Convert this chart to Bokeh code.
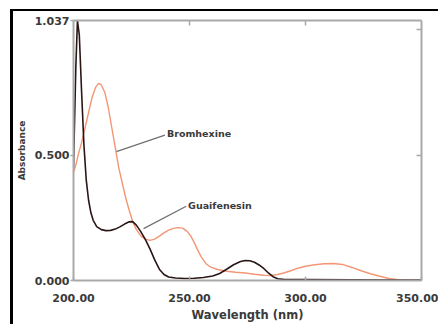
from bokeh.plotting import figure
from bokeh.models import (FixedTicker, NumeralTickFormatter, LinearAxis, Range1d,
                          Label, ColumnDataSource)
from bokeh.embed import file_html
from bokeh.resources import INLINE

# ---- data ----
guai_nm = [200, 201, 201.7, 202.5, 203.5, 204.5, 205.5, 206.5, 207.5, 208.5, 210, 212, 214, 216,
           218, 220, 222, 224, 225.5, 227, 229, 231, 233, 235, 237, 239, 241, 244, 248, 252,
           256, 260, 263, 266, 269, 272, 274, 276, 278, 280, 282, 284, 286, 288, 291, 300,
           320, 340, 350]
guai_abs = [0.45, 0.85, 1.037, 0.98, 0.75, 0.54, 0.40, 0.32, 0.27, 0.24, 0.215, 0.203, 0.199, 0.200,
            0.205, 0.214, 0.225, 0.234, 0.235, 0.222, 0.195, 0.163, 0.125, 0.082, 0.045, 0.024, 0.014,
            0.010, 0.008, 0.009, 0.012, 0.018, 0.028, 0.045, 0.063, 0.076, 0.080, 0.079, 0.073, 0.062,
            0.048, 0.030, 0.015, 0.007, 0.004, 0.004, 0.003, 0.002, 0.002]

brom_nm = [200, 201, 202, 203.5, 205, 206.5, 208, 209.5, 210.8, 212, 213.5, 215, 216.5, 218, 219.5,
           221, 222.5, 224, 225.5, 227, 229, 231, 233, 235, 237, 239, 241, 243, 245, 247, 249,
           250.5, 252, 253.5, 255, 257, 259, 262, 266, 270, 274, 278, 282, 285, 288, 291, 294,
           297, 300, 304, 308, 312, 316, 320, 324, 328, 332, 336, 340, 344, 350]
brom_abs = [0.43, 0.46, 0.50, 0.55, 0.61, 0.67, 0.73, 0.77, 0.786, 0.78, 0.75, 0.69, 0.61, 0.53, 0.45,
            0.39, 0.33, 0.28, 0.235, 0.205, 0.178, 0.165, 0.160, 0.165, 0.177, 0.190, 0.201, 0.208,
            0.211, 0.209, 0.196, 0.178, 0.152, 0.122, 0.095, 0.068, 0.054, 0.044, 0.037, 0.033,
            0.030, 0.025, 0.021, 0.020, 0.024, 0.031, 0.040, 0.050, 0.057, 0.063, 0.067, 0.068,
            0.064, 0.052, 0.039, 0.027, 0.017, 0.008, 0.003, 0.001, 0.000]

x_ticks = [200, 250, 300, 350]
y_ticks = [0.0, 0.5, 1.037]
top_ticks = [250, 300]
right_ticks = [0.5, 1.0]

names = ["Bromhexine", "Guaifenesin"]
name_x = [240.3, 249.4]
name_y = [0.586, 0.299]
leader_x0 = [218.5, 230.2]
leader_y0 = [0.514, 0.207]
leader_x1 = [239.4, 248.6]
leader_y1 = [0.580, 0.296]

AXIS = "#a9a9a9"
TXT = "#3a3a3a"
FONT = "DejaVu Sans"

# canvas begins at page (13, 11) because of the black frame border/margins
p = figure(width=428, height=315, output_backend="svg", toolbar_location=None,
           x_range=Range1d(200, 350), y_range=Range1d(0, 1.037),
           min_border_left=60, min_border_right=20, min_border_top=9, min_border_bottom=46)
p.styles = {"margin-left": "10px", "margin-top": "9px",
            "border-left": "3px solid black", "border-top": "2px solid black"}
p.grid.visible = False
p.outline_line_color = None
p.background_fill_color = "white"
p.border_fill_color = "white"

p.line(brom_nm, brom_abs, line_color="#f39675", line_width=1.4)
p.line(guai_nm, guai_abs, line_color="#2b1616", line_width=1.6)

xa = p.xaxis[0]
xa.ticker = FixedTicker(ticks=x_ticks)
xa.formatter = NumeralTickFormatter(format="0.00")
xa.axis_label = "Wavelength (nm)"
ya = p.yaxis[0]
ya.ticker = FixedTicker(ticks=y_ticks)
ya.formatter = NumeralTickFormatter(format="0.000")
ya.axis_label = "Absorbance"

for ax in (xa, ya):
    ax.axis_line_color = AXIS
    ax.axis_line_width = 2
    ax.major_tick_line_color = AXIS
    ax.major_tick_line_width = 1.5
    ax.minor_tick_line_color = None
    ax.major_label_text_font = FONT
    ax.major_label_text_font_style = "bold"
    ax.major_label_text_font_size = "11px"
    ax.major_label_text_color = TXT
    ax.axis_label_text_font = FONT
    ax.axis_label_text_font_style = "bold"
    ax.axis_label_text_color = TXT

xa.major_tick_in = 4
xa.major_tick_out = 0
xa.major_label_standoff = 13
xa.axis_label_text_font_size = "11.5px"
xa.axis_label_standoff = 3
ya.major_tick_in = 0
ya.major_tick_out = 3
ya.major_label_standoff = 1
ya.axis_label_text_font_size = "9px"
ya.axis_label_standoff = 5

for side, ticks in (("above", top_ticks), ("right", right_ticks)):
    ax = LinearAxis(ticker=FixedTicker(ticks=ticks), major_label_text_font_size="1px",
                    major_label_text_color=None, major_label_standoff=0,
                    axis_line_color=AXIS, axis_line_width=2, major_tick_line_color=AXIS,
                    major_tick_line_width=1.5, major_tick_in=5, major_tick_out=0,
                    minor_tick_line_color=None)
    p.add_layout(ax, side)

src = ColumnDataSource(dict(x0=leader_x0, y0=leader_y0, x1=leader_x1, y1=leader_y1))
p.segment("x0", "y0", "x1", "y1", source=src, line_color="#6f6f6f", line_width=1.2)
for n, x, y in zip(names, name_x, name_y):
    p.add_layout(Label(x=x, y=y, text=n, text_font=FONT, text_font_style="bold",
                       text_font_size="9.5px", text_color=TXT, text_baseline="middle",
                       text_align="left"))

open("out.html", "w").write(file_html(p, INLINE))
